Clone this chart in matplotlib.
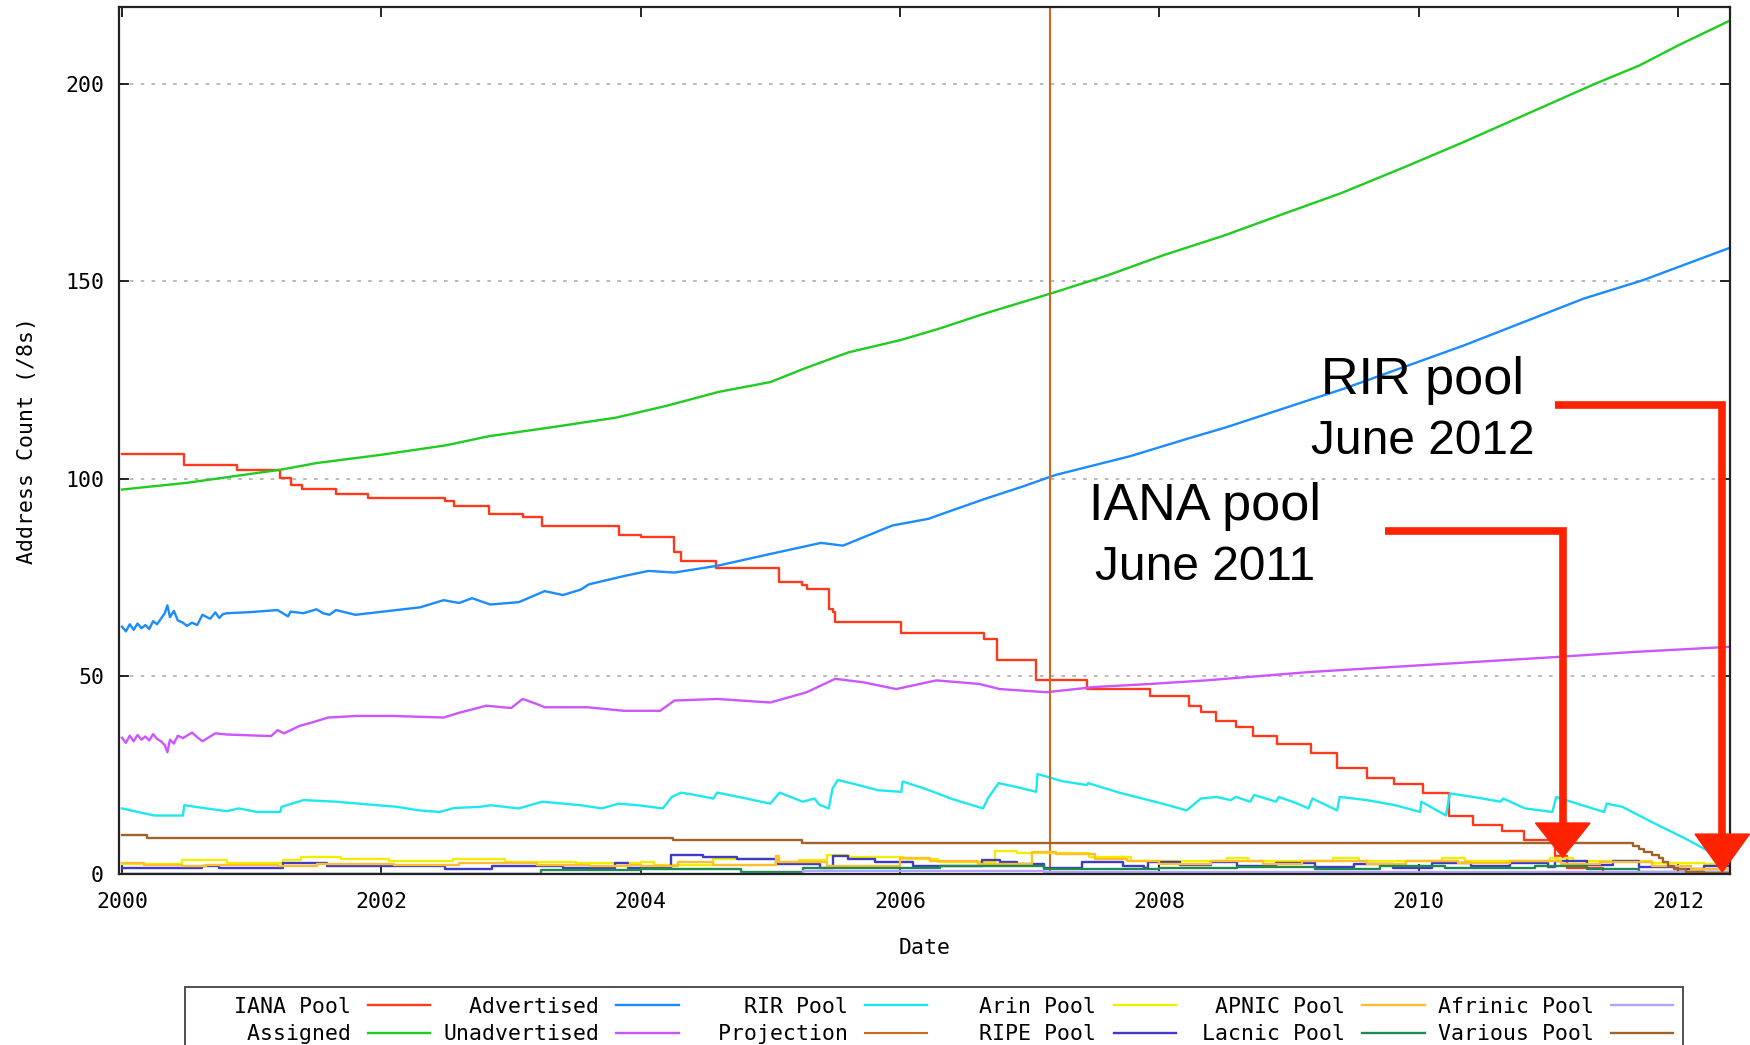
import matplotlib
matplotlib.use('Agg')
import matplotlib.pyplot as plt
from matplotlib.patches import Polygon

# --- series (decimal year, /8 count) ---
assigned_years = [2000.0, 2000.5, 2001.0, 2001.22, 2001.5, 2002.0, 2002.5, 2002.83, 2003.3, 2003.81,
                  2004.2, 2004.6, 2005.0, 2005.26, 2005.6, 2006.0, 2006.3, 2006.65, 2007.2, 2007.6,
                  2008.03, 2008.5, 2008.96, 2009.4, 2009.89, 2010.35, 2010.81, 2011.36, 2011.7, 2012.0, 2012.4]
assigned = [97.3, 99.0, 101.3, 102.3, 104.0, 106.1, 108.5, 110.8, 113.0, 115.5,
            118.5, 122.0, 124.5, 127.9, 132.0, 135.1, 138.0, 141.8, 147.3, 151.5,
            156.6, 161.6, 167.1, 172.3, 178.9, 185.3, 192.0, 200.0, 204.6, 209.7, 216.0]

advertised_years = [2000.0, 2000.03, 2000.06, 2000.09, 2000.12, 2000.15, 2000.18, 2000.21, 2000.24, 2000.27,
                    2000.3, 2000.33, 2000.35, 2000.37, 2000.4, 2000.43, 2000.47, 2000.5, 2000.54, 2000.58,
                    2000.62, 2000.68, 2000.72, 2000.75, 2000.78, 2000.81, 2001.0, 2001.2, 2001.28, 2001.3,
                    2001.4, 2001.5, 2001.55, 2001.6, 2001.65, 2001.8, 2002.09, 2002.3, 2002.48, 2002.6,
                    2002.7, 2002.84, 2003.06, 2003.26, 2003.4, 2003.54, 2003.6, 2003.87, 2004.06, 2004.26,
                    2004.59, 2005.0, 2005.39, 2005.56, 2005.94, 2006.22, 2006.33, 2006.66, 2006.94, 2007.2,
                    2007.77, 2008.22, 2008.51, 2009.42, 2010.35, 2011.27, 2011.73, 2012.4]
advertised = [62.6, 61.4, 63.2, 61.8, 63.4, 62.2, 63.0, 62.0, 64.0, 63.2,
              64.6, 66.0, 68.0, 65.0, 66.6, 64.2, 63.6, 62.8, 63.6, 63.0,
              65.6, 64.6, 66.2, 64.8, 65.8, 66.0, 66.3, 66.8, 65.2, 66.4,
              66.0, 67.0, 66.0, 65.6, 66.8, 65.6, 66.7, 67.5, 69.3, 68.6,
              69.8, 68.2, 68.8, 71.6, 70.6, 72.0, 73.3, 75.4, 76.7, 76.3,
              78.0, 81.0, 83.8, 83.1, 88.2, 89.9, 91.2, 95.0, 98.0, 101.0,
              105.7, 110.2, 113.0, 122.8, 133.8, 145.6, 150.3, 158.5]

unadvertised_years = [2000.0, 2000.03, 2000.06, 2000.09, 2000.12, 2000.15, 2000.18, 2000.21, 2000.24, 2000.27,
                      2000.3, 2000.33, 2000.35, 2000.37, 2000.4, 2000.43, 2000.47, 2000.54, 2000.58, 2000.62,
                      2000.68, 2000.72, 2000.81, 2001.15, 2001.2, 2001.25, 2001.37, 2001.45, 2001.59, 2001.81,
                      2002.09, 2002.48, 2002.6, 2002.81, 2003.0, 2003.09, 2003.2, 2003.26, 2003.59, 2003.87,
                      2004.15, 2004.26, 2004.59, 2005.0, 2005.28, 2005.5, 2005.72, 2005.97, 2006.28, 2006.61,
                      2006.77, 2007.13, 2007.49, 2007.93, 2008.36, 2009.15, 2010.0, 2011.0, 2011.66, 2012.4]
unadvertised = [34.5, 33.2, 35.0, 33.6, 35.2, 34.0, 34.8, 33.8, 35.4, 34.2,
                33.6, 32.6, 30.8, 34.0, 33.0, 35.0, 34.4, 35.8, 34.6, 33.6,
                34.8, 35.6, 35.3, 34.9, 36.4, 35.6, 37.5, 38.2, 39.6, 40.0,
                40.0, 39.6, 40.8, 42.6, 42.0, 44.3, 43.0, 42.2, 42.2, 41.3,
                41.3, 43.9, 44.3, 43.4, 46.0, 49.4, 48.5, 46.8, 49.0, 48.1,
                46.8, 46.0, 47.3, 48.1, 49.0, 51.1, 52.8, 54.8, 56.2, 57.5]

iana_years = [2000.0, 2000.475, 2000.89, 2001.22, 2001.3, 2001.39, 2001.65, 2001.9, 2002.49, 2002.56,
              2002.83, 2003.09, 2003.24, 2003.83, 2004.0, 2004.26, 2004.31, 2004.58, 2005.07, 2005.24,
              2005.28, 2005.45, 2005.48, 2005.5, 2006.01, 2006.65, 2006.75, 2007.05, 2007.44, 2007.93,
              2008.23, 2008.32, 2008.44, 2008.59, 2008.72, 2008.91, 2009.17, 2009.37, 2009.6, 2009.81,
              2010.03, 2010.23, 2010.42, 2010.64, 2010.81, 2011.05, 2011.14, 2011.42, 2012.4]
iana_pool = [106.4, 103.4, 102.3, 100.2, 98.5, 97.4, 96.1, 95.1, 94.4, 93.2,
             91.0, 90.4, 88.1, 85.7, 85.2, 81.4, 79.1, 77.4, 74.0, 73.2,
             72.2, 67.0, 66.2, 63.7, 61.1, 59.6, 54.1, 49.0, 46.8, 45.0,
             42.6, 40.9, 38.7, 37.2, 34.9, 32.9, 30.6, 26.8, 24.4, 22.9,
             20.6, 14.8, 12.5, 11.0, 8.7, 4.6, 1.6, 0.0, 0.0]

rir_years = [2000.0, 2000.15, 2000.25, 2000.47, 2000.48, 2000.65, 2000.81, 2000.9, 2001.04, 2001.22,
             2001.23, 2001.4, 2001.65, 2001.9, 2002.12, 2002.29, 2002.45, 2002.56, 2002.76, 2002.84,
             2003.06, 2003.24, 2003.54, 2003.7, 2003.83, 2003.98, 2004.17, 2004.24, 2004.31, 2004.45,
             2004.56, 2004.59, 2004.8, 2005.0, 2005.07, 2005.25, 2005.34, 2005.38, 2005.45, 2005.48,
             2005.52, 2005.68, 2005.83, 2006.01, 2006.02, 2006.2, 2006.4, 2006.64, 2006.68, 2006.76,
             2006.9, 2007.05, 2007.06, 2007.25, 2007.44, 2007.45, 2007.7, 2008.0, 2008.21, 2008.32,
             2008.44, 2008.55, 2008.59, 2008.7, 2008.73, 2008.9, 2008.92, 2009.05, 2009.15, 2009.18,
             2009.37, 2009.39, 2009.6, 2009.82, 2010.01, 2010.02, 2010.21, 2010.24, 2010.42, 2010.63,
             2010.65, 2010.82, 2011.03, 2011.06, 2011.25, 2011.43, 2011.45, 2011.57, 2011.8, 2012.06,
             2012.25, 2012.4]
rir_pool = [16.6, 15.5, 14.8, 14.8, 17.4, 16.6, 15.9, 16.6, 15.7, 15.7,
            17.0, 18.7, 18.3, 17.6, 17.0, 16.1, 15.7, 16.7, 17.0, 17.4,
            16.6, 18.3, 17.4, 16.6, 17.8, 17.4, 16.6, 19.5, 20.6, 19.8,
            19.1, 20.6, 19.2, 17.8, 20.6, 18.3, 19.1, 17.5, 16.6, 21.7,
            23.8, 22.5, 21.2, 20.8, 23.4, 21.5, 19.0, 16.6, 19.3, 23.0,
            22.0, 20.8, 25.3, 23.5, 22.5, 23.0, 20.5, 18.0, 16.1, 19.1,
            19.5, 18.7, 19.5, 18.3, 20.0, 18.3, 19.5, 18.0, 16.6, 19.1,
            16.1, 19.5, 18.7, 17.4, 15.7, 18.3, 14.8, 20.4, 19.5, 18.3,
            19.1, 16.6, 15.7, 19.5, 17.5, 15.7, 17.8, 17.0, 13.1, 8.9,
            5.5, 2.5]

projection_start = 2007.16

arin_years = [2000.0, 2000.46, 2000.81, 2001.24, 2001.38, 2001.69, 2002.06, 2002.55, 2002.95, 2003.5,
              2004.0, 2004.1, 2004.56, 2005.06, 2005.22, 2005.44, 2005.6, 2006.02, 2006.29, 2006.73,
              2006.9, 2007.46, 2007.78, 2008.52, 2008.68, 2009.34, 2009.54, 2010.18, 2010.36, 2011.01,
              2011.19, 2011.8, 2012.2, 2012.4]
arin_pool = [2.5, 3.5, 2.9, 3.5, 4.3, 3.9, 3.3, 3.75, 3.1, 2.7,
             3.1, 2.3, 3.75, 3.1, 3.5, 4.8, 4.3, 3.75, 3.1, 5.9,
             5.2, 4.3, 3.3, 4.0, 3.4, 4.0, 3.4, 4.0, 3.2, 4.0,
             3.2, 2.8, 2.5, 2.5]

apnic_years = [2000.0, 2000.17, 2000.46, 2000.65, 2001.2, 2001.5, 2002.1, 2002.6, 2003.2, 2003.6,
               2003.9, 2004.0, 2004.29, 2004.56, 2005.04, 2005.07, 2005.44, 2006.0, 2006.23, 2006.6,
               2007.02, 2007.2, 2007.5, 2007.75, 2008.0, 2008.4, 2008.8, 2009.1, 2009.6, 2009.9,
               2010.3, 2010.7, 2011.1, 2011.4, 2011.8, 2012.1, 2012.4]
apnic_pool = [2.7, 2.3, 1.9, 2.2, 1.9, 2.5, 2.3, 2.7, 2.3, 1.9,
              2.3, 2.0, 3.1, 2.3, 4.5, 3.1, 2.0, 4.0, 3.3, 2.5,
              5.6, 5.0, 3.9, 3.3, 2.6, 3.3, 2.5, 3.2, 2.6, 3.4,
              2.7, 3.3, 2.6, 3.1, 2.0, 1.2, 1.2]

afrinic_years = [2000.0, 2005.25, 2007.11, 2009.0, 2010.5, 2011.5, 2012.4]
afrinic_pool = [0.05, 0.8, 0.4, 0.5, 0.6, 0.5, 0.5]

ripe_years = [2000.0, 2000.46, 2000.62, 2000.75, 2001.0, 2001.24, 2001.58, 2002.1, 2002.49, 2002.85,
              2003.4, 2003.8, 2003.9, 2004.23, 2004.48, 2004.74, 2005.04, 2005.38, 2005.48, 2005.6,
              2005.81, 2006.1, 2006.63, 2006.77, 2006.9, 2007.11, 2007.4, 2007.72, 2007.88, 2007.91,
              2008.16, 2008.4, 2008.6, 2008.9, 2009.2, 2009.5, 2009.8, 2010.1, 2010.4, 2010.7,
              2011.0, 2011.05, 2011.3, 2011.5, 2011.7, 2012.0, 2012.2, 2012.4]
ripe_pool = [1.6, 1.4, 2.0, 1.6, 1.4, 2.9, 2.0, 1.9, 1.2, 2.0,
             1.6, 2.7, 1.4, 4.8, 4.3, 3.75, 2.5, 1.4, 4.5, 3.9,
             3.1, 2.0, 3.5, 3.0, 2.5, 1.4, 3.1, 2.0, 1.4, 3.1,
             2.4, 3.0, 2.0, 2.8, 1.8, 2.6, 1.6, 2.9, 1.9, 2.8,
             1.8, 3.3, 2.3, 3.2, 1.8, 1.3, 2.0, 1.5]

lacnic_years = [2000.0, 2003.23, 2004.0, 2004.77, 2005.25, 2006.31, 2007.11, 2008.0, 2008.6, 2009.2,
                2009.7, 2010.2, 2010.9, 2011.3, 2011.7, 2012.4]
lacnic_pool = [0.1, 1.0, 1.2, 0.6, 1.4, 2.0, 1.2, 1.5, 1.8, 1.3,
               2.0, 1.5, 2.0, 1.2, 0.6, 0.6]

various_years = [2000.0, 2000.19, 2004.25, 2005.24, 2011.65, 2011.7, 2011.74, 2011.8, 2011.85, 2011.88,
                 2011.92, 2011.97, 2012.06, 2012.2, 2012.4]
various_pool = [9.9, 9.0, 8.6, 7.9, 7.2, 6.3, 5.5, 4.8, 4.0, 3.0,
                2.0, 1.2, 0.5, 0.3, 0.3]

# projected exhaustion dates marked with the red arrows
iana_exhaust = 2011.11
rir_exhaust = 2012.34

mono = 'DejaVu Sans Mono'
plt.rcParams['font.family'] = mono
plt.rcParams['font.size'] = 15.5

fig = plt.figure(figsize=(17.5, 10.45), dpi=100)
ax = fig.add_axes([119.4 / 1750, 1 - 874 / 1045, (1730 - 119.4) / 1750, (874 - 6.7) / 1045])

lw = 1.7
lines = {}
lines['IANA Pool'], = ax.plot(iana_years, iana_pool, color='#ff3a1c', lw=lw, drawstyle='steps-post')
lines['Assigned'], = ax.plot(assigned_years, assigned, color='#1fcc1f', lw=lw)
lines['Advertised'], = ax.plot(advertised_years, advertised, color='#1a8cff', lw=lw)
lines['Unadvertised'], = ax.plot(unadvertised_years, unadvertised, color='#cc55ff', lw=lw)
lines['RIR Pool'], = ax.plot(rir_years, rir_pool, color='#1ee8ee', lw=lw)
lines['Projection'] = ax.axvline(projection_start, color='#d2691e', lw=1.5)
lines['Arin Pool'], = ax.plot(arin_years, arin_pool, color='#f2ee00', lw=lw, drawstyle='steps-post')
lines['RIPE Pool'], = ax.plot(ripe_years, ripe_pool, color='#3c3cc8', lw=lw, drawstyle='steps-post')
lines['APNIC Pool'], = ax.plot(apnic_years, apnic_pool, color='#ffbe2e', lw=lw, drawstyle='steps-post')
lines['Lacnic Pool'], = ax.plot(lacnic_years, lacnic_pool, color='#1e8c50', lw=lw, drawstyle='steps-post')
lines['Afrinic Pool'], = ax.plot(afrinic_years, afrinic_pool, color='#b4a4ff', lw=lw, drawstyle='steps-post')
lines['Various Pool'], = ax.plot(various_years, various_pool, color='#a0642a', lw=lw, drawstyle='steps-post')

ax.set_xlim(1999.98, 2012.4)
ax.set_ylim(0, 219.5)
ax.set_xticks(range(2000, 2013, 2))
ax.set_yticks([0, 50, 100, 150, 200])
ax.tick_params(direction='in', length=7, width=1.2, top=True, right=True)
ax.tick_params(axis='x', pad=13)
ax.tick_params(axis='y', pad=11)
ax.yaxis.grid(True, linestyle=(0, (2, 4)), color='#b4b4b4', lw=1.3)
for s in ax.spines.values():
    s.set_linewidth(1.6)
    s.set_color('#222222')

ax.set_xlabel('Date', labelpad=19)
ax.set_ylabel('Address Count (/8s)', labelpad=20)

# red call-outs for the exhaustion dates
red = '#ff2200'
callouts = [
    ('RIR pool', 'June 2012', 2010.03, 121.6, 106.4, rir_exhaust, 2011.05, 118.7, 10.1, 0.5),
    ('IANA pool', 'June 2011', 2008.35, 89.5, 74.5, iana_exhaust, 2009.74, 86.8, 12.9, 4.2),
]
for title, when, tx, ty1, ty2, xa, x0, yh, head_top, tip in callouts:
    ax.text(tx, ty1, title, family='Liberation Sans', fontsize=37.5, ha='center', va='baseline')
    ax.text(tx, ty2, when, family='Liberation Sans', fontsize=34.5, ha='center', va='baseline')
    ax.plot([x0, xa, xa], [yh, yh, head_top], color=red, lw=5.5,
            solid_joinstyle='miter', solid_capstyle='butt', clip_on=False, zorder=5)
    ax.add_patch(Polygon([(xa - 0.21, head_top), (xa + 0.21, head_top), (xa, tip)],
                         closed=True, color=red, clip_on=False, zorder=5))

order = ['IANA Pool', 'Assigned', 'Advertised', 'Unadvertised', 'RIR Pool', 'Projection',
         'Arin Pool', 'RIPE Pool', 'APNIC Pool', 'Lacnic Pool', 'Afrinic Pool', 'Various Pool']
leg = fig.legend([lines[k] for k in order], [k.rjust(12) for k in order],
                 loc='upper left', bbox_to_anchor=(185 / 1750, 1 - 987 / 1045),
                 ncol=6, markerfirst=False, frameon=True, fancybox=False,
                 handlelength=2.9, handletextpad=0.8, columnspacing=0.6,
                 borderpad=0.45, labelspacing=0.35, borderaxespad=0,
                 prop={'family': mono, 'size': 15.5})
leg.get_frame().set_edgecolor('#222222')
leg.get_frame().set_linewidth(1.4)

fig.savefig('out.png', dpi=100)
